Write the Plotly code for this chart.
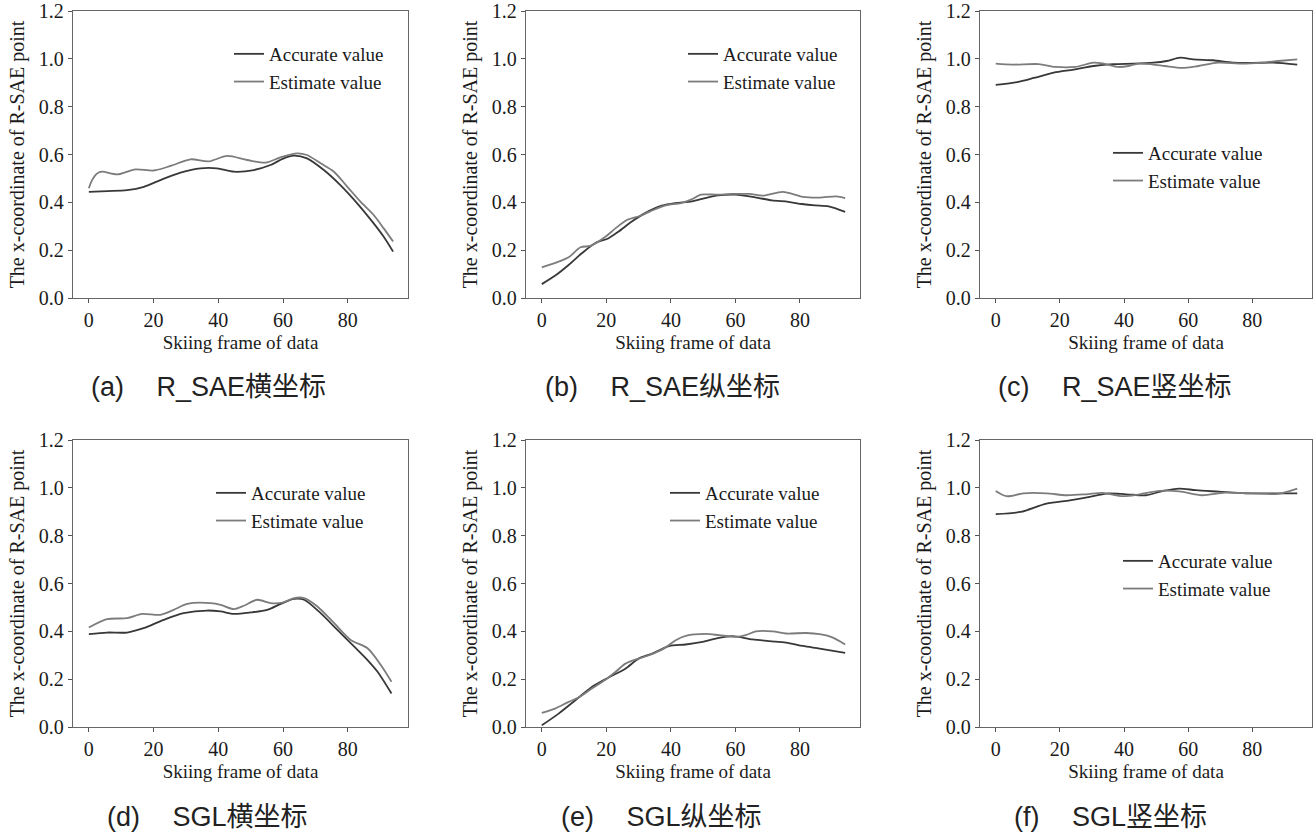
import plotly.graph_objects as go

W, H = 1315, 833

# ---------------- data ----------------
a_acc_x = [0, 5.7, 11.8, 17, 22.1, 28.3, 34.5, 39.6, 44.8, 51, 56.1, 60.2, 63.3, 67.4, 72.6, 77.7, 82.9, 88, 91.1, 94]
a_acc_y = [0.444, 0.447, 0.451, 0.465, 0.493, 0.524, 0.542, 0.542, 0.528, 0.535, 0.556, 0.584, 0.595, 0.584, 0.535, 0.472, 0.396, 0.312, 0.256, 0.194]
a_est_x = [0, 1, 2.6, 4.1, 8.8, 14.4, 20, 25.2, 31.4, 37, 42.7, 48.9, 54.6, 59.2, 64.3, 67.4, 71.6, 75.7, 79.8, 83.9, 88, 91.1, 94]
a_est_y = [0.459, 0.493, 0.521, 0.528, 0.517, 0.538, 0.533, 0.552, 0.580, 0.571, 0.594, 0.577, 0.566, 0.588, 0.605, 0.598, 0.563, 0.528, 0.466, 0.403, 0.347, 0.291, 0.236]

b_acc_x = [0, 4.4, 8.3, 12.4, 16.5, 20.7, 23.8, 27.9, 32, 37.2, 41.3, 46.5, 50.6, 54.7, 59.9, 66.1, 71.3, 76.4, 80.6, 84.7, 88.9, 94]
b_acc_y = [0.058, 0.096, 0.138, 0.187, 0.229, 0.25, 0.278, 0.32, 0.355, 0.386, 0.397, 0.404, 0.418, 0.429, 0.432, 0.421, 0.408, 0.402, 0.393, 0.387, 0.383, 0.36]
b_est_x = [0, 5.2, 8.3, 12, 15.1, 19.8, 22.9, 26.5, 30.6, 35.3, 38.4, 43.1, 46.2, 49.3, 54, 59.1, 64.3, 68.5, 74.7, 80.9, 86.1, 91.3, 94]
b_est_y = [0.128, 0.152, 0.170, 0.212, 0.218, 0.257, 0.292, 0.327, 0.344, 0.372, 0.387, 0.397, 0.411, 0.432, 0.432, 0.435, 0.435, 0.428, 0.444, 0.423, 0.420, 0.425, 0.418]

c_acc_x = [0, 6.7, 11.9, 18.1, 24.3, 30.5, 36.7, 42.9, 49.1, 53.3, 57.5, 61.6, 67.8, 74, 80.3, 86.5, 94]
c_acc_y = [0.891, 0.903, 0.92, 0.942, 0.955, 0.97, 0.978, 0.98, 0.984, 0.991, 1.005, 0.998, 0.994, 0.984, 0.983, 0.984, 0.976]
c_est_x = [0, 5.2, 13.4, 18.6, 24.8, 30.5, 33.6, 38.3, 41.4, 44.5, 48.7, 52.8, 58, 63.2, 69.4, 76.7, 82.9, 88.1, 94]
c_est_y = [0.98, 0.976, 0.978, 0.966, 0.966, 0.984, 0.98, 0.966, 0.97, 0.98, 0.977, 0.97, 0.962, 0.97, 0.984, 0.98, 0.984, 0.991, 0.998]

d_acc_x = [0, 5.6, 11.8, 16.9, 23.1, 29.3, 36.5, 40.7, 44.8, 50, 55.1, 59.3, 63.4, 66.5, 71.6, 76.8, 82, 86.1, 89.2, 93.5]
d_acc_y = [0.388, 0.395, 0.395, 0.413, 0.448, 0.476, 0.487, 0.483, 0.473, 0.479, 0.49, 0.515, 0.536, 0.532, 0.476, 0.406, 0.336, 0.28, 0.231, 0.14]
d_est_x = [0, 5.6, 11.8, 16.4, 22.1, 26.2, 30.4, 37.6, 40.7, 44.8, 47.9, 52, 56.2, 59.8, 63.4, 66.5, 70.6, 75.8, 80.9, 86.1, 90.2, 93.5]
d_est_y = [0.416, 0.451, 0.455, 0.473, 0.469, 0.49, 0.515, 0.518, 0.511, 0.493, 0.507, 0.532, 0.518, 0.52, 0.539, 0.539, 0.504, 0.434, 0.364, 0.329, 0.259, 0.189]

e_acc_x = [0, 5.2, 10.4, 15.5, 20.7, 25.9, 30, 34.2, 39.4, 44.6, 49.8, 54.9, 59.1, 65.3, 70.5, 75.7, 80.9, 86.1, 94]
e_acc_y = [0.007, 0.056, 0.112, 0.167, 0.207, 0.244, 0.286, 0.307, 0.338, 0.345, 0.356, 0.373, 0.38, 0.366, 0.359, 0.353, 0.339, 0.328, 0.31]
e_est_x = [0, 4.1, 8.3, 11.4, 15.5, 19.7, 22.8, 25.9, 29, 33.2, 38.3, 41.5, 44.6, 50.8, 54.9, 60.1, 63.2, 66.3, 71.5, 75.7, 81.9, 86.1, 90.2, 94]
e_est_y = [0.059, 0.077, 0.105, 0.123, 0.161, 0.198, 0.23, 0.265, 0.282, 0.3, 0.332, 0.363, 0.381, 0.389, 0.384, 0.377, 0.384, 0.4, 0.4, 0.391, 0.393, 0.388, 0.374, 0.345]

f_acc_x = [0, 7.7, 15.8, 23.1, 29.3, 34.5, 40.7, 46.9, 52.1, 57.2, 62.4, 69.6, 77.9, 86.1, 94]
f_acc_y = [0.89, 0.899, 0.934, 0.948, 0.962, 0.976, 0.973, 0.969, 0.987, 0.997, 0.99, 0.984, 0.977, 0.977, 0.977]
f_est_x = [0, 3.4, 8.6, 15.8, 22, 28.2, 33.4, 39.6, 44.8, 51, 57.2, 64.3, 71.5, 79.8, 88, 94]
f_est_y = [0.987, 0.965, 0.977, 0.977, 0.969, 0.973, 0.979, 0.965, 0.973, 0.987, 0.985, 0.969, 0.98, 0.977, 0.975, 0.997]

captions = ["(a)\u2003\u2009R_SAE横坐标", "(b)\u2003\u2009R_SAE纵坐标", "(c)\u2003\u2009R_SAE竖坐标",
            "(d)\u2003\u2009SGL横坐标", "(e)\u2003\u2009SGL纵坐标", "(f)\u2003\u2009SGL竖坐标"]
series_names = ["Accurate value", "Estimate value"]
x_ticks = [0, 20, 40, 60, 80]
y_ticks = [0.0, 0.2, 0.4, 0.6, 0.8, 1.0, 1.2]
x_title = "Skiing frame of data"
y_title = "The x-coordinate of R-SAE point"

panels = [
    (a_acc_x, a_acc_y, a_est_x, a_est_y),
    (b_acc_x, b_acc_y, b_est_x, b_est_y),
    (c_acc_x, c_acc_y, c_est_x, c_est_y),
    (d_acc_x, d_acc_y, d_est_x, d_est_y),
    (e_acc_x, e_acc_y, e_est_x, e_est_y),
    (f_acc_x, f_acc_y, f_est_x, f_est_y),
]

# ---------------- layout geometry (pixels) ----------------
px_x = [(73, 408), (526, 860), (980, 1312)]
px_y = [(11, 298), (440, 727)]
legend_px = [(229, 35), (683, 35), (1108, 134), (211, 474), (665, 474), (1118, 542)]
caption_px = [(89, 387), (543, 387), (996, 387), (105, 817), (559, 817), (1012, 817)]

ACC_COLOR = "#383838"
EST_COLOR = "#7c7c7c"
SERIF = "Liberation Serif"
SANS = "Liberation Sans, Noto Sans CJK SC"

fig = go.Figure()
layout = dict(
    width=W, height=H,
    margin=dict(l=0, r=0, t=0, b=0, autoexpand=False),
    paper_bgcolor="white", plot_bgcolor="white",
    showlegend=True,
    font=dict(family=SERIF, color="#1a1a1a"),
)

annotations = []
for i, (ax_, ay_, ex_, ey_) in enumerate(panels):
    r, c = divmod(i, 3)
    sfx = "" if i == 0 else str(i + 1)
    lg = "legend" if i == 0 else f"legend{i + 1}"
    fig.add_trace(go.Scatter(x=ax_, y=ay_, name=series_names[0], mode="lines",
                             line=dict(color=ACC_COLOR, width=1.8, shape="spline", smoothing=0.8),
                             xaxis="x" + sfx, yaxis="y" + sfx, legend=lg))
    fig.add_trace(go.Scatter(x=ex_, y=ey_, name=series_names[1], mode="lines",
                             line=dict(color=EST_COLOR, width=1.8, shape="spline", smoothing=0.8),
                             xaxis="x" + sfx, yaxis="y" + sfx, legend=lg))
    x0, x1 = px_x[c]
    y0, y1 = px_y[r]
    layout["xaxis" + sfx] = dict(
        domain=[x0 / W, x1 / W], anchor="y" + sfx, range=[-4.9, 98.6],
        tickvals=x_ticks, ticks="outside", ticklen=4, tickcolor="#555",
        showline=True, mirror=True, linecolor="#666", linewidth=1.3,
        showgrid=False, zeroline=False, automargin=False,
        tickfont=dict(family=SERIF, size=20, color="#1a1a1a"),
        title=dict(text=x_title, font=dict(family=SERIF, size=19, color="#1a1a1a"), standoff=5),
    )
    layout["yaxis" + sfx] = dict(
        domain=[1 - y1 / H, 1 - y0 / H], anchor="x" + sfx, range=[0, 1.2],
        tickvals=y_ticks, ticktext=[f"{v:.1f}" for v in y_ticks],
        ticks="outside", ticklen=4, tickcolor="#555",
        showline=True, mirror=True, linecolor="#666", linewidth=1.3,
        showgrid=False, zeroline=False, automargin=False,
        tickfont=dict(family=SERIF, size=20, color="#1a1a1a"),
        title=dict(text=y_title, font=dict(family=SERIF, size=20, color="#1a1a1a"), standoff=8),
    )
    lx, ly = legend_px[i]
    layout[lg] = dict(
        x=lx / W, y=1 - ly / H, xanchor="left", yanchor="top",
        bgcolor="rgba(0,0,0,0)", borderwidth=0,
        font=dict(family=SERIF, size=19, color="#1a1a1a"),
        tracegroupgap=0, itemwidth=30,
    )
    cx, cy = caption_px[i]
    annotations.append(dict(
        text=captions[i], xref="paper", yref="paper",
        x=cx / W, y=1 - cy / H, xanchor="left", yanchor="middle",
        showarrow=False, font=dict(family=SANS, size=27, color="#222"),
    ))

layout["annotations"] = annotations
fig.update_layout(**layout)
# remove the browser's default 8px page margin so the figure fills the window exactly
fig.write_html("out.html", config={"displayModeBar": False},
               post_script="document.body.style.margin='0';document.body.style.overflow='hidden';")
